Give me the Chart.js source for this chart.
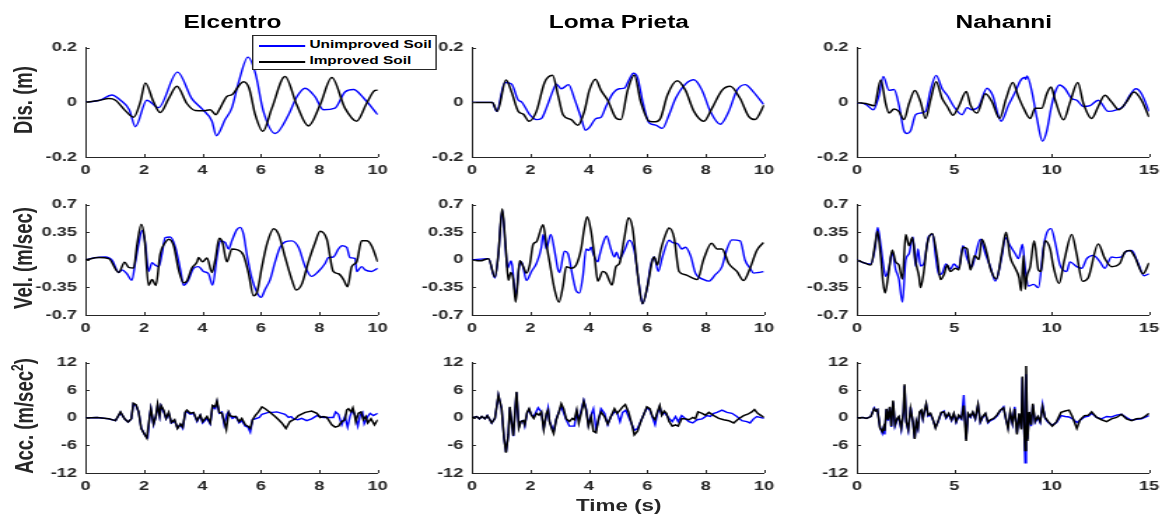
<!DOCTYPE html>
<html>
<head>
<meta charset="utf-8">
<script src="https://cdn.jsdelivr.net/npm/chart.js@4.4.1/dist/chart.umd.min.js"></script>
<style>
  body { margin: 0; background: #fff; }
  #fig {
    position: relative; width: 829px; height: 518px;
    transform: scaleX(1.4); transform-origin: 0 0;
    font-family: "Liberation Sans", Arial, sans-serif; font-weight: bold;
  }
  .panel { position: absolute; }
  .title { position: absolute; top: 12px; font-size: 17.5px; color: #000; transform: translateX(-50%); white-space: nowrap; }
  .ylab { position: absolute; left: 17px; font-size: 18.5px; color: #262626; white-space: nowrap;
          transform: translate(-50%, -50%) rotate(-90deg); }
  .ylab sup { font-size: 12px; }
  .xlab { position: absolute; top: 497px; font-size: 16px; color: #262626; transform: translateX(-50%); white-space: nowrap; }
  .legend { position: absolute; left: 180px; top: 35px; width: 130px; height: 33px; background: #fff;
            border: 1px solid #262626; z-index: 5; font-size: 11px; color: #000; }
  .legend div { position: absolute; left: 40px; white-space: nowrap; }
  .legend span { position: absolute; left: 4px; width: 33px; height: 1.5px; }
</style>
</head>
<body>
<div id="fig">
  <div class="title" style="left:166px">Elcentro</div>
  <div class="title" style="left:442px">Loma Prieta</div>
  <div class="title" style="left:717px">Nahanni</div>
  <div class="ylab" style="top:100px">Dis. (m)</div>
  <div class="ylab" style="top:258px">Vel. (m/sec)</div>
  <div class="ylab" style="top:416px">Acc. (m/sec<sup>2</sup>)</div>
  <div class="xlab" style="left:442px">Time (s)</div>
  <div class="legend">
    <span style="top:9px;background:#0000ff"></span><div style="top:2px">Unimproved Soil</div>
    <span style="top:25px;background:#000"></span><div style="top:18px">Improved Soil</div>
  </div>
</div>
<script>
// tick values
const disTicks = [-0.2, 0, 0.2];
const velTicks = [-0.7, -0.35, 0, 0.35, 0.7];
const accTicks = [-12, -6, 0, 6, 12];
const tenTicks = [0, 2, 4, 6, 8, 10];
const fifteenTicks = [0, 5, 10, 15];

// displacement (m), [time, value]
const elDisU = [[0,0],[0.5,0.008],[0.9,0.027],[1.2,0.008],[1.5,-0.027],[1.71,-0.089],[2.1,0.008],[2.5,-0.019],[3.15,0.111],[3.64,0.014],[3.99,-0.024],[4.33,-0.069],[4.48,-0.122],[4.78,-0.063],[5.01,-0.02],[5.24,0.073],[5.56,0.166],[5.81,0.109],[6.09,-0.033],[6.49,-0.114],[6.95,-0.045],[7.23,0.02],[7.52,0.052],[7.86,0.02],[8.14,-0.027],[8.54,-0.021],[8.88,0.038],[9.17,0.047],[9.51,0.017],[10,-0.045]];
const elDisI = [[0,0],[0.46,0.007],[0.8,0.014],[1.03,0.008],[1.37,-0.031],[1.65,-0.054],[1.88,0.002],[2.05,0.071],[2.33,0.002],[2.56,-0.037],[2.85,0.014],[3.13,0.059],[3.47,-0.004],[3.76,-0.03],[4.04,-0.031],[4.27,-0.027],[4.46,-0.045],[4.61,-0.021],[4.84,0.022],[5.01,0.028],[5.41,0.076],[5.6,0.052],[5.81,-0.045],[6.07,-0.106],[6.38,-0.021],[6.83,0.095],[7.23,-0.009],[7.63,-0.086],[8.03,-0.009],[8.43,0.091],[8.88,-0.021],[9.28,-0.069],[9.62,-0.004],[9.91,0.044],[10,0.045]];
const lpDisU = [[0,0],[0.7,0],[0.85,-0.033],[1.13,0.073],[1.36,0.067],[1.59,0.008],[1.7,0.002],[1.98,-0.045],[2.21,-0.063],[2.38,-0.059],[2.55,-0.021],[2.78,0.044],[2.89,0.067],[3.06,0.05],[3.31,0.065],[3.51,0.014],[3.74,-0.057],[3.89,-0.102],[4.02,-0.092],[4.25,-0.059],[4.42,-0.054],[4.59,-0.015],[4.82,0.032],[5.05,0.05],[5.22,0.052],[5.39,0.085],[5.53,0.107],[5.67,0.091],[5.86,-0.004],[6.07,-0.075],[6.29,-0.083],[6.52,-0.095],[6.75,-0.045],[6.97,0.014],[7.31,0.067],[7.6,0.083],[7.88,0.044],[8.16,-0.033],[8.5,-0.08],[8.79,-0.033],[9.07,0.044],[9.35,0.065],[9.64,0.038],[9.98,-0.007]];
const lpDisI = [[0,0],[0.7,0],[0.87,-0.033],[1.17,0.082],[1.36,0.038],[1.59,-0.033],[1.76,-0.043],[1.96,-0.069],[2.21,-0.033],[2.49,0.073],[2.76,0.099],[2.95,0.026],[3.12,-0.045],[3.4,-0.063],[3.63,-0.084],[3.85,-0.033],[4.02,0.044],[4.23,0.085],[4.42,0.044],[4.65,0.008],[4.93,-0.057],[5.1,-0.063],[5.33,0.044],[5.56,0.1],[5.78,0.002],[6.07,-0.069],[6.29,-0.071],[6.46,-0.057],[6.69,0.026],[7.03,0.079],[7.31,0.044],[7.6,-0.033],[7.94,-0.069],[8.22,-0.021],[8.56,0.044],[8.84,0.059],[9.18,0.014],[9.47,-0.051],[9.69,-0.063],[10,-0.01]];
const naDisU = [[0,0],[0.46,-0.007],[0.85,-0.027],[1.14,0.026],[1.36,0.095],[1.65,0.044],[1.91,0.047],[2.16,-0.009],[2.42,-0.104],[2.59,-0.114],[2.76,-0.104],[3.02,-0.045],[3.27,-0.039],[3.53,-0.033],[3.78,0.044],[4.07,0.099],[4.38,0.05],[4.64,0.026],[4.98,-0.015],[5.4,-0.045],[5.66,-0.019],[5.91,-0.027],[6.26,-0.015],[6.68,0.052],[6.97,0.026],[7.4,-0.069],[7.79,-0.009],[8.13,0.038],[8.39,0.079],[8.61,0.091],[8.68,0.085],[8.73,0.097],[8.99,0.038],[9.24,-0.057],[9.53,-0.142],[9.75,-0.104],[9.97,-0.021],[10.18,0.038],[10.4,0.064],[10.69,0.05],[11.03,0.014],[11.29,0.008],[11.63,-0.015],[11.97,-0.012],[12.39,0.008],[12.9,-0.033],[13.33,-0.027],[13.67,-0.015],[14.01,0.026],[14.32,0.05],[14.61,0.032],[15,-0.033]];
const naDisI = [[0,0],[0.46,-0.004],[0.89,-0.012],[1.23,0.082],[1.48,-0.004],[1.65,-0.039],[1.91,-0.024],[2.16,-0.033],[2.42,-0.063],[2.68,-0.004],[2.98,0.044],[3.27,0.002],[3.53,-0.059],[3.78,0.008],[4.07,0.076],[4.38,0.014],[4.64,-0.015],[4.94,-0.047],[5.23,-0.015],[5.62,0.04],[5.83,-0.009],[6.17,-0.039],[6.6,0.032],[6.94,0.002],[7.33,-0.059],[7.66,0.014],[8,0.073],[8.3,0.02],[8.56,-0.021],[8.9,-0.059],[9.15,-0.021],[9.49,-0.021],[9.75,0.032],[9.97,0.056],[10.18,0.008],[10.61,-0.064],[10.95,0.002],[11.34,0.073],[11.63,-0.004],[12.05,-0.059],[12.39,-0.015],[12.73,0.026],[13.07,0.002],[13.45,-0.027],[13.84,0.002],[14.23,0.038],[14.61,0.008],[15,-0.054]];

// velocity (m/sec)
const elVelU = [[0,0],[0.34,0.029],[0.68,0.037],[0.91,-0.004],[1.14,-0.16],[1.25,-0.127],[1.42,-0.176],[1.59,-0.258],[1.71,-0.025],[1.82,0.2],[1.94,0.373],[2.05,0.2],[2.16,-0.147],[2.28,-0.037],[2.39,-0.066],[2.51,-0.086],[2.62,0.078],[2.73,0.283],[2.9,0.291],[3.08,0.16],[3.25,-0.127],[3.36,-0.324],[3.53,-0.25],[3.7,-0.106],[3.87,-0.086],[4.04,-0.147],[4.21,-0.176],[4.35,-0.319],[4.5,0.037],[4.61,0.242],[4.78,0.221],[4.9,0.139],[5.01,0.242],[5.18,0.385],[5.3,0.413],[5.41,0.323],[5.52,0.078],[5.69,-0.229],[5.87,-0.413],[6.01,-0.475],[6.15,-0.373],[6.32,-0.25],[6.49,-0.025],[6.66,0.16],[6.83,0.229],[7.06,0.242],[7.29,0.16],[7.52,-0.086],[7.74,-0.209],[7.97,-0.147],[8.2,-0.045],[8.31,0.029],[8.48,0.037],[8.66,0.139],[8.77,0.18],[8.94,0.16],[9.05,0.029],[9.23,0.016],[9.28,-0.147],[9.45,-0.086],[9.57,-0.127],[9.79,-0.147],[10,-0.106]];
const elVelI = [[0,0],[0.46,0.029],[0.8,0.016],[1.14,-0.16],[1.34,-0.029],[1.48,-0.094],[1.65,-0.102],[1.77,0.2],[1.91,0.454],[2.02,0.283],[2.16,-0.324],[2.28,-0.25],[2.41,-0.324],[2.56,0.078],[2.73,0.221],[2.85,0.262],[3.02,0.18],[3.19,-0.127],[3.36,-0.291],[3.47,-0.27],[3.64,-0.106],[3.82,-0.025],[3.87,0.029],[4.01,-0.025],[4.16,0.025],[4.33,-0.16],[4.44,-0.004],[4.58,0.274],[4.69,0.221],[4.84,-0.025],[5.01,0.139],[5.18,0.131],[5.41,0.057],[5.58,-0.168],[5.75,-0.455],[5.87,-0.413],[6.04,-0.086],[6.21,0.2],[6.44,0.397],[6.61,0.324],[6.83,0.037],[7.06,-0.25],[7.21,-0.381],[7.4,-0.311],[7.63,-0.025],[7.86,0.221],[8.03,0.364],[8.26,0.262],[8.48,-0.147],[8.66,-0.176],[8.83,-0.25],[8.97,-0.34],[9.11,-0.086],[9.28,-0.025],[9.45,0.242],[9.62,0.242],[9.79,0.18],[10,-0.025]];
const lpVelU = [[0,0],[0.57,0.016],[0.79,-0.229],[0.91,0.078],[1.04,0.63],[1.16,0.119],[1.22,-0.106],[1.34,-0.012],[1.38,-0.066],[1.5,-0.455],[1.62,-0.086],[1.7,-0.025],[1.87,-0.262],[2.04,-0.147],[2.21,-0.045],[2.38,0.16],[2.44,0.324],[2.55,0.139],[2.7,0.324],[2.83,0.119],[2.95,-0.127],[3.0,-0.16],[3.17,0.111],[3.29,0.078],[3.46,-0.229],[3.57,-0.393],[3.68,-0.422],[3.8,-0.209],[3.91,0.139],[4.0,0.119],[4.08,0.16],[4.16,0.07],[4.31,-0.025],[4.37,0.057],[4.48,0.2],[4.61,0.303],[4.76,0.139],[4.88,0.037],[4.95,0.098],[5.05,0.016],[5.22,0.119],[5.39,0.25],[5.56,0.119],[5.73,-0.332],[5.84,-0.557],[6.01,-0.332],[6.12,-0.066],[6.24,0.037],[6.38,-0.147],[6.52,0.037],[6.75,0.25],[6.86,0.221],[7.06,0.2],[7.18,0.139],[7.31,0.16],[7.48,0.057],[7.65,-0.168],[7.94,-0.25],[8.11,-0.27],[8.33,-0.188],[8.56,-0.086],[8.73,0.139],[8.9,0.254],[9.18,0.242],[9.35,-0.004],[9.52,-0.106],[9.64,-0.168],[9.81,-0.16],[9.98,-0.147]];
const lpVelI = [[0,0],[0.28,-0.012],[0.57,0.016],[0.79,-0.217],[0.91,0.078],[1.04,0.651],[1.16,0.16],[1.25,-0.258],[1.33,-0.16],[1.42,-0.25],[1.5,-0.537],[1.64,-0.012],[1.76,-0.086],[1.87,-0.168],[1.98,-0.066],[2.1,0.2],[2.21,0.229],[2.44,0.446],[2.55,0.2],[2.66,-0.025],[2.83,-0.373],[2.98,-0.537],[3.12,-0.332],[3.23,-0.086],[3.4,-0.106],[3.57,-0.066],[3.74,0.139],[3.85,0.405],[3.95,0.549],[4.08,0.364],[4.2,0.037],[4.31,-0.27],[4.48,-0.147],[4.59,-0.168],[4.8,-0.319],[4.93,-0.086],[5.05,-0.045],[5.22,0.283],[5.36,0.536],[5.5,0.405],[5.67,-0.168],[5.84,-0.557],[6.01,-0.332],[6.18,-0.004],[6.24,0.037],[6.35,-0.066],[6.46,0.119],[6.63,0.324],[6.75,0.405],[6.92,0.283],[7.09,-0.147],[7.31,-0.188],[7.54,-0.229],[7.71,-0.25],[7.94,0.016],[8.2,0.213],[8.39,0.139],[8.56,0.139],[8.79,-0.045],[9.07,-0.147],[9.3,-0.262],[9.52,-0.106],[9.75,0.119],[9.98,0.221]];
const naVelU = [[0,0],[0.37,-0.037],[0.72,-0.053],[0.94,0.16],[1.07,0.413],[1.23,0.18],[1.4,-0.127],[1.48,-0.209],[1.65,-0.106],[1.82,0.098],[1.99,-0.119],[2.16,-0.242],[2.34,-0.537],[2.51,-0.004],[2.68,0.078],[2.88,0.291],[3.02,-0.086],[3.14,0.139],[3.27,-0.078],[3.44,-0.045],[3.7,0.303],[3.9,0.324],[4.04,0.057],[4.21,-0.188],[4.38,-0.168],[4.58,-0.053],[4.8,-0.119],[4.98,-0.053],[5.23,-0.106],[5.45,0.18],[5.66,0.016],[5.91,-0.086],[6.08,0.057],[6.34,0.262],[6.6,0.078],[6.85,-0.086],[7.11,-0.27],[7.45,0.057],[7.62,0.283],[7.87,0.18],[8.13,0.078],[8.3,0.016],[8.5,0.2],[8.64,-0.106],[8.81,-0.332],[9.07,-0.311],[9.32,-0.352],[9.58,0.16],[9.75,0.344],[9.97,0.397],[10.18,0.221],[10.43,-0.066],[10.77,-0.147],[10.94,-0.025],[11.28,-0.086],[11.54,-0.106],[11.8,0.016],[12.14,0.057],[12.48,-0.025],[12.73,-0.106],[13.07,0.037],[13.33,0.029],[13.58,0.037],[13.84,0.111],[14.1,0.119],[14.44,-0.045],[14.74,-0.201],[15,-0.176]];
const naVelI = [[0,0],[0.46,-0.045],[0.72,-0.066],[0.94,0.201],[1.06,0.364],[1.23,0.037],[1.35,-0.291],[1.45,-0.422],[1.62,-0.188],[1.82,0.127],[1.99,-0.025],[2.16,-0.066],[2.34,-0.242],[2.51,0.324],[2.68,0.18],[2.85,0.283],[3.02,-0.025],[3.19,-0.209],[3.27,-0.352],[3.44,-0.147],[3.61,0.201],[3.87,0.336],[4.12,0.037],[4.3,-0.25],[4.47,-0.188],[4.64,-0.066],[4.8,-0.147],[5.06,-0.106],[5.23,-0.127],[5.45,0.16],[5.66,0.139],[5.83,-0.127],[6.05,0.057],[6.26,0.004],[6.42,0.262],[6.68,0.078],[6.85,-0.106],[7.16,-0.242],[7.45,0.098],[7.66,0.352],[7.87,0.037],[8.13,-0.106],[8.33,-0.229],[8.43,-0.393],[8.56,0.057],[8.64,-0.373],[8.73,-0.209],[8.9,-0.086],[9.1,0.242],[9.32,-0.127],[9.45,-0.147],[9.66,0.242],[9.92,0.139],[10.09,-0.086],[10.38,-0.299],[10.65,-0.004],[11.03,0.324],[11.28,0.078],[11.58,-0.27],[11.87,-0.229],[12.39,0.201],[12.73,0.016],[13.07,-0.086],[13.5,-0.045],[13.75,0.098],[14.01,0.119],[14.27,0.037],[14.69,-0.176],[15,-0.037]];

// acceleration (m/sec^2)
const elAccU = [[0,0],[0.4,0.1],[0.8,-0.2],[1.03,-0.6],[1.2,1.2],[1.34,-0.2],[1.46,-0.9],[1.57,-0.2],[1.64,3.0],[1.73,2.7],[1.82,1.3],[1.91,-2.2],[2.05,-3.9],[2.13,-4.3],[2.2,0.5],[2.24,2.0],[2.33,-1.5],[2.41,0.3],[2.47,2.7],[2.54,0.3],[2.59,2.6],[2.68,1.3],[2.76,-0.2],[2.85,1.0],[2.94,-1.1],[3.05,-0.6],[3.15,-2.2],[3.25,-1.5],[3.33,-2.3],[3.42,1.2],[3.47,1.3],[3.59,0.8],[3.7,1.0],[3.82,-0.8],[3.93,0.5],[4.01,-1.1],[4.16,-0.1],[4.27,-1.3],[4.35,2.4],[4.44,2.0],[4.5,3.4],[4.58,1.0],[4.67,1.3],[4.75,-1.5],[4.84,0.8],[4.9,1.3],[4.95,0.5],[5.03,-0.1],[5.15,0.3],[5.26,-1.1],[5.35,-0.6],[5.47,-1.8],[5.56,-2.0],[5.64,-3.1],[5.72,-0.4],[5.81,-0.2],[5.95,0.1],[6.04,0.8],[6.15,1.0],[6.26,1.2],[6.4,1.2],[6.55,1.3],[6.72,1.0],[6.83,0.8],[6.95,0.1],[7.04,0.3],[7.12,-0.2],[7.27,-0.4],[7.4,-0.1],[7.57,-0.6],[7.74,-0.2],[7.92,0.5],[8.03,0.3],[8.14,0.1],[8.31,0.1],[8.48,0.1],[8.56,1.3],[8.66,0.8],[8.77,-1.5],[8.88,0.3],[8.97,-2.0],[9.05,0.3],[9.13,1.7],[9.23,0.5],[9.32,-1.8],[9.4,0.6],[9.48,1.2],[9.54,-1.3],[9.66,0.3],[9.74,1.0],[9.85,0.5],[10,1.0]];
const elAccI = [[0,0],[0.4,0.1],[0.8,-0.2],[1.03,-0.6],[1.2,1.3],[1.34,-0.2],[1.46,-0.9],[1.57,-0.2],[1.64,3.2],[1.73,2.9],[1.82,1.3],[1.91,-2.3],[2.05,-3.9],[2.1,-4.4],[2.2,0.3],[2.24,2.0],[2.33,-1.3],[2.41,0.3],[2.47,3.0],[2.54,0.5],[2.59,2.7],[2.68,1.7],[2.76,-0.1],[2.85,1.2],[2.94,-1.0],[3.05,-0.4],[3.15,-2.3],[3.25,-1.3],[3.33,-2.0],[3.42,1.3],[3.47,1.7],[3.59,1.0],[3.7,1.2],[3.82,-0.6],[3.93,0.6],[4.01,-0.8],[4.16,0.3],[4.27,-1.1],[4.35,2.7],[4.44,2.4],[4.5,3.7],[4.58,1.2],[4.67,1.0],[4.75,-0.8],[4.82,-2.5],[4.9,1.2],[4.95,0.5],[5.03,0.3],[5.15,0.3],[5.26,-0.8],[5.35,-0.1],[5.47,-1.5],[5.56,-1.8],[5.64,-2.3],[5.72,-0.4],[5.81,0.5],[5.92,1.3],[6.04,2.4],[6.15,2.0],[6.32,1.2],[6.49,0.3],[6.61,-0.4],[6.72,-1.1],[6.86,-2.3],[7.0,-0.8],[7.18,-0.2],[7.29,0.5],[7.52,1.2],[7.74,1.5],[7.92,1.0],[8.03,0.1],[8.14,0.3],[8.26,0.1],[8.43,-1.5],[8.54,-2.0],[8.66,-1.8],[8.77,-0.8],[8.88,-0.4],[8.94,1.7],[9.0,2.0],[9.09,1.3],[9.15,2.2],[9.2,1.0],[9.25,-0.8],[9.34,1.0],[9.43,1.3],[9.51,-0.4],[9.59,0.3],[9.66,-1.1],[9.77,-0.2],[9.89,-1.5],[10,-0.4]];
const lpAccU = [[0,0],[0.17,0.3],[0.26,-0.2],[0.34,0.3],[0.45,-0.2],[0.53,0.5],[0.6,-0.2],[0.68,-1.1],[0.79,-0.1],[0.91,4.9],[1.02,2.0],[1.1,-4.3],[1.17,-7.4],[1.25,-3.6],[1.3,2.2],[1.36,-0.8],[1.42,-4.0],[1.47,0.6],[1.53,5.5],[1.61,-2.0],[1.68,-0.8],[1.76,-0.6],[1.81,-1.8],[1.89,1.0],[1.96,1.8],[2.04,0.6],[2.12,0.3],[2.27,2.2],[2.38,1.3],[2.46,-2.2],[2.61,2.2],[2.66,-0.8],[2.8,-2.9],[2.89,-0.2],[3.06,2.6],[3.23,-0.4],[3.34,-1.8],[3.51,-1.8],[3.59,1.3],[3.66,-0.4],[3.83,3.8],[3.91,2.0],[3.99,-1.5],[4.08,0.6],[4.16,2.0],[4.25,-2.5],[4.34,-0.4],[4.42,2.0],[4.54,1.0],[4.65,-1.5],[4.76,0.3],[4.88,1.3],[4.97,1.2],[5.07,-0.8],[5.16,1.2],[5.27,1.7],[5.36,0.3],[5.48,-1.5],[5.56,-2.7],[5.67,-2.3],[5.78,-0.8],[5.9,1.0],[5.99,2.2],[6.09,1.7],[6.18,0.1],[6.27,-1.5],[6.35,1.0],[6.43,2.4],[6.5,0.6],[6.58,1.2],[6.75,-0.1],[6.86,-0.8],[6.97,0.3],[7.06,-0.8],[7.18,0.5],[7.31,-0.2],[7.43,-0.8],[7.56,-1.1],[7.71,-0.4],[7.88,-0.2],[8.05,0.5],[8.16,0.3],[8.28,1.0],[8.39,1.2],[8.56,1.7],[8.73,1.2],[8.9,1.0],[9.07,0.3],[9.24,-0.6],[9.41,-0.8],[9.52,-1.1],[9.64,-0.2],[9.75,0.3],[9.86,0.1],[10,-0.1]];
const lpAccI = [[0,0],[0.17,0.3],[0.26,-0.2],[0.34,0.3],[0.45,-0.2],[0.53,0.5],[0.6,-0.2],[0.68,-1.1],[0.79,-0.1],[0.91,5.0],[1.02,2.0],[1.1,-4.3],[1.17,-7.6],[1.25,-3.6],[1.3,2.4],[1.36,-0.8],[1.42,-3.9],[1.47,0.6],[1.53,5.7],[1.61,-2.2],[1.68,-0.8],[1.76,-0.6],[1.81,-1.5],[1.89,1.2],[1.96,2.0],[2.04,0.6],[2.12,-0.1],[2.21,1.0],[2.3,0.6],[2.38,1.3],[2.46,-2.5],[2.55,1.0],[2.61,1.7],[2.66,-0.8],[2.74,-2.5],[2.8,-3.4],[2.89,-0.4],[2.98,1.3],[3.06,3.1],[3.14,2.0],[3.23,-0.2],[3.34,-0.8],[3.44,-0.1],[3.51,-0.4],[3.59,1.7],[3.66,-1.1],[3.74,1.0],[3.83,3.6],[3.91,1.7],[3.99,-1.8],[4.08,0.3],[4.16,-2.9],[4.25,-3.2],[4.34,-0.1],[4.42,1.3],[4.54,0.3],[4.65,-1.3],[4.76,0.3],[4.88,2.0],[4.97,1.0],[5.07,1.7],[5.16,2.4],[5.25,2.9],[5.36,1.3],[5.48,-1.5],[5.56,-3.7],[5.67,-2.9],[5.78,-0.8],[5.9,1.0],[5.99,2.4],[6.09,2.0],[6.18,0.3],[6.27,-0.4],[6.35,1.3],[6.43,2.7],[6.5,0.6],[6.58,1.5],[6.66,1.0],[6.75,-0.8],[6.86,-1.8],[6.97,-1.5],[7.06,-1.8],[7.18,-0.2],[7.29,-0.2],[7.43,-0.4],[7.56,0.1],[7.65,-0.2],[7.74,1.3],[7.88,1.0],[7.99,0.6],[8.11,1.2],[8.28,0.5],[8.45,-0.1],[8.62,-0.4],[8.79,-0.6],[8.96,-1.1],[9.13,-0.2],[9.3,0.5],[9.44,0.8],[9.58,1.3],[9.67,1.8],[9.78,1.0],[9.9,0.5],[10,0.1]];
const naAccU = [[0,0],[0.3,0.1],[0.5,-0.1],[0.72,0.3],[0.89,2.2],[0.98,1.6],[1.06,1.8],[1.19,-2.0],[1.31,-3.4],[1.38,-2.2],[1.43,-3.6],[1.52,1.8],[1.6,-0.6],[1.69,2.2],[1.77,-2.0],[1.86,3.4],[1.96,-1.8],[2.08,-0.3],[2.16,0.1],[2.28,-2.6],[2.39,1.0],[2.45,7.0],[2.54,-1.0],[2.64,-2.8],[2.76,2.4],[2.88,-1.0],[2.97,-4.4],[3.05,-1.0],[3.14,-2.4],[3.22,1.1],[3.31,1.5],[3.39,-0.3],[3.48,1.5],[3.56,2.9],[3.66,0.4],[3.78,0.8],[3.9,-0.4],[4.04,-2.0],[4.18,-0.8],[4.33,1.0],[4.47,1.5],[4.58,-0.1],[4.72,0.8],[4.86,-0.6],[4.98,0.8],[5.1,-1.0],[5.23,0.4],[5.37,-0.3],[5.49,5.0],[5.61,-4.6],[5.71,0.8],[5.83,0.1],[5.95,1.1],[6.08,-0.3],[6.22,2.7],[6.34,-1.0],[6.46,0.1],[6.6,0.8],[6.73,-1.1],[6.85,-0.6],[7.02,-0.3],[7.19,0.4],[7.36,1.5],[7.53,2.4],[7.65,-0.3],[7.76,-2.0],[7.87,1.1],[7.99,-1.3],[8.1,2.4],[8.22,-3.2],[8.33,0.8],[8.44,-2.2],[8.5,8.8],[8.57,-0.5],[8.64,-9.8],[8.69,9.5],[8.76,-4.6],[8.85,1.0],[8.95,-1.8],[9.03,2.8],[9.15,-1.0],[9.29,0.1],[9.41,-1.0],[9.53,3.0],[9.66,-0.1],[9.83,-1.0],[10.03,-1.6],[10.25,-1.0],[10.48,0.5],[10.69,0.3],[10.89,0.2],[11.06,-0.2],[11.29,-1.0],[11.46,-0.5],[11.68,0.2],[11.89,0.4],[12.05,1.0],[12.31,0.1],[12.56,-0.2],[12.82,0.3],[13.07,0.2],[13.33,0.6],[13.58,0.8],[13.84,0.1],[14.1,-0.5],[14.35,-0.3],[14.61,-0.2],[14.78,0.1],[15,0.5]];
const naAccI = [[0,0],[0.3,0.1],[0.5,-0.1],[0.72,0.3],[0.89,2.0],[0.98,1.5],[1.06,1.8],[1.19,-2.2],[1.31,-3.0],[1.38,-2.0],[1.43,-2.8],[1.52,2.0],[1.6,-0.4],[1.69,2.4],[1.77,-1.8],[1.86,3.8],[1.96,-1.5],[2.08,-0.1],[2.16,0.3],[2.28,-2.2],[2.39,1.3],[2.45,7.3],[2.54,-0.8],[2.64,-2.5],[2.76,2.0],[2.88,-0.8],[2.97,-4.6],[3.05,-0.8],[3.14,-2.2],[3.22,1.3],[3.31,1.7],[3.39,-0.1],[3.48,1.7],[3.56,3.1],[3.66,0.6],[3.78,1.0],[3.9,-0.2],[4.04,-2.2],[4.18,-0.6],[4.33,1.2],[4.47,1.3],[4.58,0.1],[4.72,1.0],[4.86,-0.4],[4.98,1.0],[5.1,-0.8],[5.23,0.6],[5.37,-0.1],[5.49,2.7],[5.61,-5.0],[5.71,1.0],[5.83,0.3],[5.95,1.3],[6.08,-0.1],[6.22,2.9],[6.34,-0.8],[6.46,0.3],[6.6,1.0],[6.73,-0.9],[6.85,-0.4],[7.02,-0.1],[7.19,0.6],[7.36,1.7],[7.53,2.2],[7.65,-0.1],[7.76,-2.3],[7.87,1.3],[7.99,-1.1],[8.1,2.0],[8.22,-3.6],[8.33,1.0],[8.44,-2.5],[8.5,9.0],[8.57,-0.8],[8.64,-7.1],[8.69,11.3],[8.76,-5.0],[8.85,1.3],[8.95,-1.5],[9.03,3.1],[9.15,-0.8],[9.29,0.3],[9.41,-0.8],[9.53,2.4],[9.66,0.1],[9.83,-0.8],[10.03,-1.8],[10.25,-0.8],[10.48,1.2],[10.69,1.5],[10.89,1.7],[11.06,0.3],[11.29,-2.3],[11.46,-0.4],[11.68,0.5],[11.89,0.6],[12.05,1.3],[12.31,0.1],[12.56,-0.4],[12.82,-0.8],[13.07,-0.2],[13.33,0.1],[13.58,0.8],[13.84,-0.2],[14.1,-0.6],[14.35,-0.2],[14.61,-0.1],[14.78,0.3],[15,1.0]];

// grid geometry (unstretched px)
const colLeft = [61, 337, 612];
const rowTop = [44, 201, 359];
const rowH = [113, 114, 114];
const plotW = 210;
const PAD_L = 60, PAD_R = 12, PAD_T = 10, PAD_B = 25;
const AXIS = '#262626';
const tickFont = { family: 'Liberation Sans', size: 13, weight: 'bold' };

// MATLAB style tick marks pointing into the axes
const inwardTicks = {
  id: 'inwardTicks',
  afterDraw(chart) {
    const { ctx, chartArea, scales } = chart;
    ctx.save();
    ctx.strokeStyle = AXIS;
    ctx.lineWidth = 1;
    ctx.beginPath();
    scales.x.ticks.forEach(t => {
      const px = Math.round(scales.x.getPixelForValue(t.value)) + 0.5;
      ctx.moveTo(px, chartArea.bottom);
      ctx.lineTo(px, chartArea.bottom - 3);
    });
    scales.y.ticks.forEach(t => {
      const py = Math.round(scales.y.getPixelForValue(t.value)) + 0.5;
      ctx.moveTo(chartArea.left, py);
      ctx.lineTo(chartArea.left + 3, py);
    });
    ctx.stroke();
    ctx.restore();
  }
};

const fig = document.getElementById('fig');

function makePanel(col, row, xMax, xTicks, yLim, yTicks, unimproved, improved, smooth) {
  const box = document.createElement('div');
  box.className = 'panel';
  box.style.left = (colLeft[col] - PAD_L) + 'px';
  box.style.top = (rowTop[row] - PAD_T) + 'px';
  box.style.width = (PAD_L + plotW + PAD_R) + 'px';
  box.style.height = (PAD_T + rowH[row] + PAD_B) + 'px';
  const canvas = document.createElement('canvas');
  box.appendChild(canvas);
  fig.appendChild(box);

  const line = smooth ? { cubicInterpolationMode: 'monotone' } : { tension: 0 };
  new Chart(canvas, {
    type: 'line',
    data: {
      datasets: [
        { label: 'Unimproved Soil', data: unimproved, borderColor: '#0000ff', borderWidth: 1.4, pointRadius: 0, order: 2, ...line },
        { label: 'Improved Soil', data: improved, borderColor: '#000000', borderWidth: 1.5, pointRadius: 0, order: 1, ...line },
      ],
    },
    options: {
      responsive: true,
      maintainAspectRatio: false,
      animation: false,
      events: [],
      layout: { padding: { top: PAD_T, right: PAD_R, left: 0, bottom: 0 } },
      plugins: { legend: { display: false }, tooltip: { enabled: false } },
      scales: {
        x: {
          type: 'linear', min: 0, max: xMax,
          afterBuildTicks: s => { s.ticks = xTicks.map(v => ({ value: v })); },
          afterFit: s => { s.height = PAD_B; },
          ticks: { font: tickFont, color: AXIS, padding: 6, maxRotation: 0, autoSkip: false, callback: v => String(v) },
          grid: { display: false, drawTicks: false },
          border: { display: true, color: AXIS, width: 1 },
        },
        y: {
          min: -yLim, max: yLim,
          afterBuildTicks: s => { s.ticks = yTicks.map(v => ({ value: v })); },
          afterFit: s => { s.width = PAD_L; },
          ticks: { font: tickFont, color: AXIS, padding: 6, autoSkip: false, callback: v => String(v) },
          grid: { display: false, drawTicks: false },
          border: { display: true, color: AXIS, width: 1 },
        },
      },
    },
    plugins: [inwardTicks],
  });
}

makePanel(0, 0, 10, tenTicks, 0.2, disTicks, elDisU, elDisI, true);
makePanel(1, 0, 10, tenTicks, 0.2, disTicks, lpDisU, lpDisI, true);
makePanel(2, 0, 15, fifteenTicks, 0.2, disTicks, naDisU, naDisI, true);
makePanel(0, 1, 10, tenTicks, 0.7, velTicks, elVelU, elVelI, true);
makePanel(1, 1, 10, tenTicks, 0.7, velTicks, lpVelU, lpVelI, true);
makePanel(2, 1, 15, fifteenTicks, 0.7, velTicks, naVelU, naVelI, true);
makePanel(0, 2, 10, tenTicks, 12, accTicks, elAccU, elAccI, false);
makePanel(1, 2, 10, tenTicks, 12, accTicks, lpAccU, lpAccI, false);
makePanel(2, 2, 15, fifteenTicks, 12, accTicks, naAccU, naAccI, false);
</script>
</body>
</html>
